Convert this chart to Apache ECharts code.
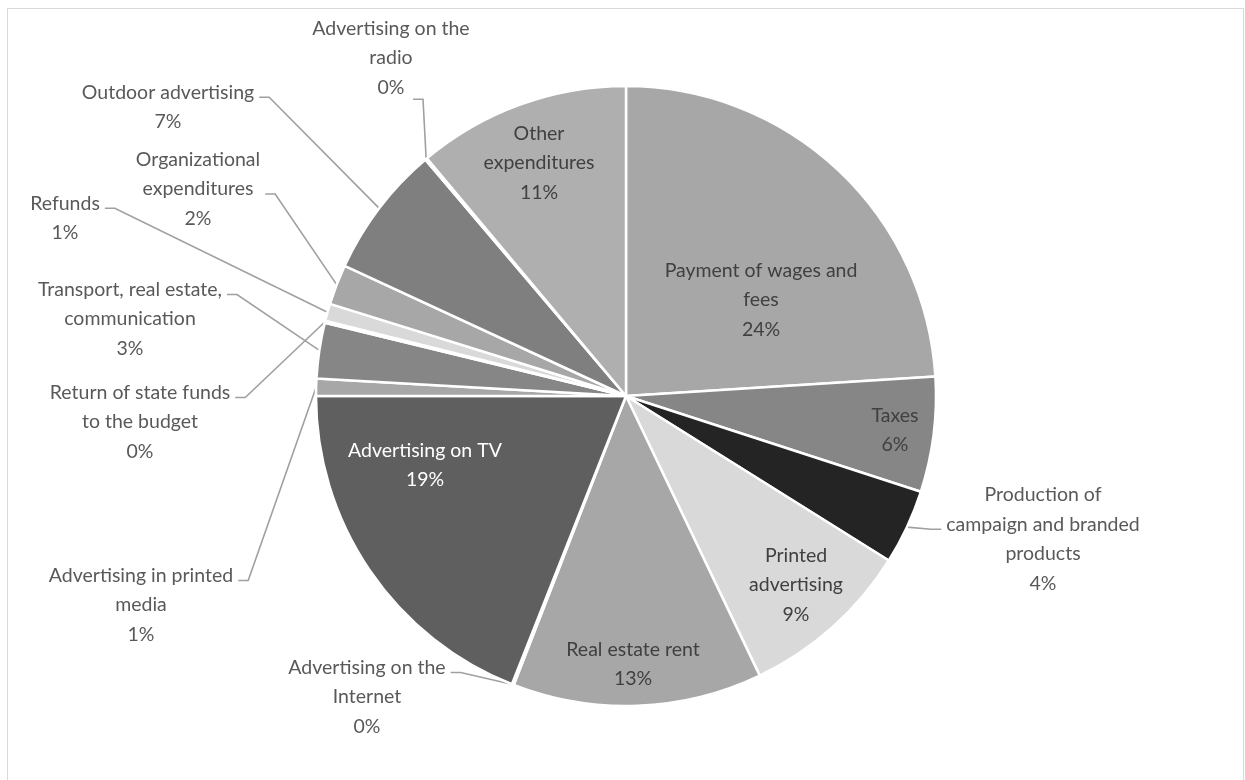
<!DOCTYPE html>
<html>
<head>
<meta charset="utf-8">
<script src="https://cdn.jsdelivr.net/npm/echarts@6/dist/echarts.min.js"></script>
<style>
  html, body { margin: 0; padding: 0; background: #ffffff; }
  #wrap { position: relative; width: 1245px; height: 780px; overflow: hidden; }
  #chart { position: absolute; left: 0; top: 0; width: 1245px; height: 780px; }
  #frame { position: absolute; left: 7px; top: 8px; width: 1237px; height: 800px;
           border: 1px solid #d9d9d9; box-sizing: border-box; pointer-events: none; }
</style>
</head>
<body>
<div id="wrap"><div id="chart"></div><div id="frame"></div></div>
<script>
// Expenditure categories, clockwise from 12 o'clock
const categories = [
  'Payment of wages and fees',
  'Taxes',
  'Production of campaign and branded products',
  'Printed advertising',
  'Real estate rent',
  'Advertising on the Internet',
  'Advertising on TV',
  'Advertising in printed media',
  'Transport, real estate, communication',
  'Return of state funds to the budget',
  'Refunds',
  'Organizational expenditures',
  'Outdoor advertising',
  'Advertising on the radio',
  'Other expenditures'
];

// Share of total spending, %
const shares = [24.0, 6.0, 3.9, 9.0, 13.0, 0.1, 19.0, 0.9, 2.9, 0.1, 0.9, 2.1, 6.9, 0.1, 11.1];

// Slice fills (grayscale)
const sliceColors = [
  '#a7a7a7', '#868686', '#242424', '#d9d9d9', '#a7a7a7', '#7f7f7f', '#5f5f5f',
  '#a7a7a7', '#868686', '#7f7f7f', '#d9d9d9', '#a7a7a7', '#7f7f7f', '#7f7f7f', '#afafaf'
];

// Line breaks used in the data labels
const wrappedNames = {
  'Payment of wages and fees': 'Payment of wages and\nfees',
  'Production of campaign and branded products': 'Production of\ncampaign and branded\nproducts',
  'Printed advertising': 'Printed\nadvertising',
  'Advertising on the Internet': 'Advertising on the\nInternet',
  'Advertising in printed media': 'Advertising in printed\nmedia',
  'Transport, real estate, communication': 'Transport, real estate,\ncommunication',
  'Return of state funds to the budget': 'Return of state funds\nto the budget',
  'Organizational expenditures': 'Organizational\nexpenditures',
  'Advertising on the radio': 'Advertising on the\nradio',
  'Other expenditures': 'Other\nexpenditures'
};

// Label placement: block centre, plus where the leader line hooks in
const LINE_H = 29.5;
const labelSpots = {
  'Payment of wages and fees': { x: 761, y: 300, inside: true, color: '#404040' },
  'Taxes': { x: 895, y: 430, inside: true, color: '#404040' },
  'Production of campaign and branded products': { x: 1043, y: 539, side: 'left', line: 1 },
  'Printed advertising': { x: 796, y: 585, inside: true, color: '#404040' },
  'Real estate rent': { x: 633, y: 664, inside: true, color: '#404040' },
  'Advertising on the Internet': { x: 367, y: 697, side: 'right', line: 0 },
  'Advertising on TV': { x: 425, y: 465, inside: true, color: '#ffffff' },
  'Advertising in printed media': { x: 141, y: 605, side: 'right', line: 0 },
  'Transport, real estate, communication': { x: 130, y: 319, side: 'right', line: 0 },
  'Return of state funds to the budget': { x: 140, y: 422, side: 'right', line: 0 },
  'Refunds': { x: 65, y: 218, side: 'right', line: 0 },
  'Organizational expenditures': { x: 198, y: 189, side: 'right', line: 1 },
  'Outdoor advertising': { x: 168, y: 107, side: 'right', line: 0 },
  'Advertising on the radio': { x: 391, y: 58, side: 'below', line: 2 },
  'Other expenditures': { x: 539, y: 163, inside: true, color: '#404040' }
};

const pieData = categories.map(function (name, i) {
  const spot = labelSpots[name];
  return {
    name: name,
    value: shares[i],
    itemStyle: { color: sliceColors[i] },
    label: { position: spot.inside ? 'inside' : 'outside', color: spot.inside ? spot.color : '#595959' },
    labelLine: { show: !spot.inside }
  };
});

const chart = echarts.init(document.getElementById('chart'), null, { renderer: 'canvas' });

chart.setOption({
  backgroundColor: '#ffffff',
  animation: false,
  series: [{
    type: 'pie',
    center: [626, 396],
    radius: 310,
    startAngle: 90,
    clockwise: true,
    avoidLabelOverlap: false,
    itemStyle: { borderColor: '#ffffff', borderWidth: 2.5 },
    label: {
      fontFamily: 'Lato',
      fontSize: 19.5,
      lineHeight: LINE_H,
      align: 'center',
      formatter: function (p) {
        return (wrappedNames[p.name] || p.name) + '\n' + Math.round(p.percent) + '%';
      }
    },
    labelLine: {
      show: true,
      length: 10,
      length2: 10,
      lineStyle: { color: '#a0a0a0', width: 1.6 }
    },
    labelLayout: function (params) {
      const name = categories[params.dataIndex];
      const spot = labelSpots[name];
      const out = { x: spot.x, y: spot.y, align: 'center', verticalAlign: 'middle' };
      if (spot.inside || !params.labelLinePoints) return out;
      const w = params.labelRect.width;
      const h = params.labelRect.height;
      const top = spot.y - h / 2;
      const hookY = top + (spot.line + 0.5) * LINE_H + 5;
      const edge = params.labelLinePoints[0];
      let attach, elbow;
      if (spot.side === 'right') {
        attach = [spot.x + w / 2 + 5, hookY];
        elbow = [attach[0] + 10, hookY];
      } else if (spot.side === 'left') {
        attach = [spot.x - w / 2 - 5, hookY];
        elbow = [attach[0] - 10, hookY];
      } else {
        attach = [spot.x + 22, top + h - 3];
        elbow = [attach[0] + 10, attach[1]];
      }
      out.labelLinePoints = [edge, elbow, attach];
      return out;
    },
    data: pieData
  }]
});
</script>
</body>
</html>
